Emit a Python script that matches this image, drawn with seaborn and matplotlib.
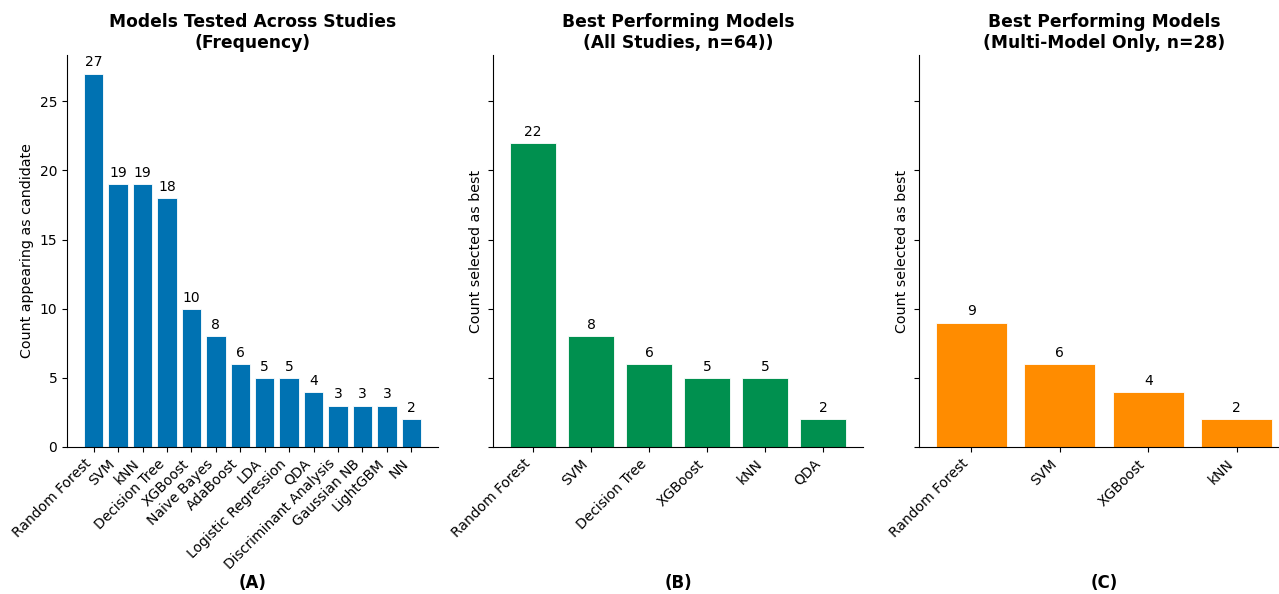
import matplotlib
matplotlib.use("Agg")
import matplotlib.pyplot as plt
import seaborn as sns

sns.set_style("ticks", {"text.color": "black", "axes.labelcolor": "black",
                        "xtick.color": "black", "ytick.color": "black",
                        "axes.edgecolor": "black"})
plt.rcParams["font.family"] = ["DejaVu Sans"]

# Candidate models across studies
tested_models = ["Random Forest", "SVM", "kNN", "Decision Tree", "XGBoost", "Naive Bayes",
                 "AdaBoost", "LDA", "Logistic Regression", "QDA", "Discriminant Analysis",
                 "Gaussian NB", "LightGBM", "NN"]
tested_counts = [27, 19, 19, 18, 10, 8, 6, 5, 5, 4, 3, 3, 3, 2]

# Best model, all studies
best_all_models = ["Random Forest", "SVM", "Decision Tree", "XGBoost", "kNN", "QDA"]
best_all_counts = [22, 8, 6, 5, 5, 2]

# Best model, multi-model studies only
best_multi_models = ["Random Forest", "SVM", "XGBoost", "kNN"]
best_multi_counts = [9, 6, 4, 2]

W, H = 1279, 594
fig = plt.figure(figsize=(W / 100, H / 100), dpi=100)

def px_axes(left, right, top, bottom, sharey=None):
    return fig.add_axes([left / W, 1 - bottom / H, (right - left) / W, (bottom - top) / H],
                        sharey=sharey)

ax1 = px_axes(67, 438, 55, 447)
ax2 = px_axes(493, 863, 55, 447, sharey=ax1)
ax3 = px_axes(919, 1289, 55, 447, sharey=ax1)

panels = [
    (ax1, tested_models, tested_counts, "#0072B2",
     "Models Tested Across Studies\n(Frequency)", "Count appearing as candidate", "(A)"),
    (ax2, best_all_models, best_all_counts, "#00904F",
     "Best Performing Models\n(All Studies, n=64))", "Count selected as best", "(B)"),
    (ax3, best_multi_models, best_multi_counts, "#FF8C00",
     "Best Performing Models\n(Multi-Model Only, n=28)", "Count selected as best", "(C)"),
]

for ax, cats, vals, color, title, ylabel, tag in panels:
    sns.barplot(x=cats, y=vals, color=color, saturation=1, width=0.8,
                edgecolor="white", linewidth=0.6, ax=ax)
    # plain matplotlib-style x padding around the bars
    ax.margins(x=0.05)
    ax.autoscale(enable=True, axis="x")
    for i, v in enumerate(vals):
        ax.annotate(str(v), (i, v), xytext=(0, 3), textcoords="offset points",
                    ha="center", va="bottom", fontsize=10)
    ax.set_title(title, fontsize=12.3, fontweight="bold", pad=5)
    ax.set_ylabel(ylabel, fontsize=10.3)
    ax.set_xlabel("")
    plt.setp(ax.get_xticklabels(), rotation=45, ha="right", fontsize=10)
    ax.tick_params(axis="y", labelsize=10)
    sns.despine(ax=ax)
    pos = ax.get_position()
    fig.text((pos.x0 + pos.x1) / 2, 1 - 583 / H, tag, ha="center", va="center",
             fontsize=12, fontweight="bold")

ax1.set_ylim(0, 28.35)
ax1.set_yticks([0, 5, 10, 15, 20, 25])
for ax in (ax2, ax3):
    ax.tick_params(axis="y", labelleft=False)

fig.savefig("out.png", dpi=100)
